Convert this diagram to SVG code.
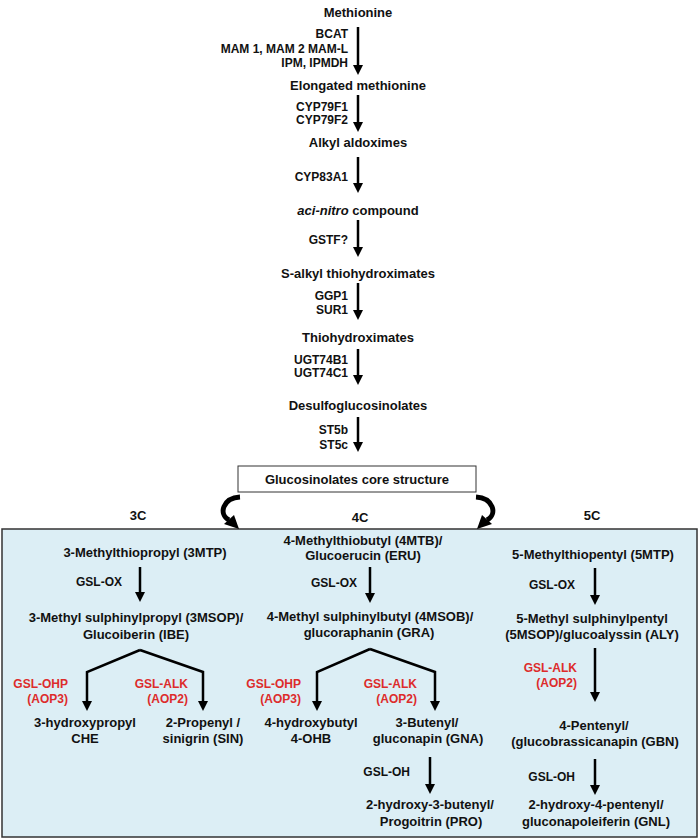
<svg xmlns="http://www.w3.org/2000/svg" width="700" height="840" viewBox="0 0 700 840">
<defs>
<marker id="ah" viewBox="0 0 10 10" refX="2" refY="5" markerWidth="4" markerHeight="4" orient="auto" markerUnits="strokeWidth">
<path d="M0,0 L10,5 L0,10 z" fill="#000"/>
</marker>
<style>
text{font-family:"Liberation Sans",Arial,sans-serif;font-weight:bold;fill:#111;}
.c{font-size:13px;text-anchor:middle;}
.e{font-size:12px;text-anchor:end;}
.r{font-size:12px;text-anchor:end;fill:#DD2B2B;}
.a{stroke:#000;stroke-width:2.5;fill:none;marker-end:url(#ah);}
.cv{stroke:#000;stroke-width:5;fill:none;}
</style>
</defs>
<rect x="0" y="0" width="700" height="840" fill="#fff"/>
<rect id="panel" x="2" y="529" width="695" height="308" fill="#DCEEF5" stroke="#333" stroke-width="1.5"/>

<g id="connectors">
<line class="a" x1="358" y1="27" x2="358" y2="67"/>
<line class="a" x1="358" y1="95" x2="358" y2="124"/>
<line class="a" x1="358" y1="157" x2="358" y2="185"/>
<line class="a" x1="358" y1="220" x2="358" y2="249"/>
<line class="a" x1="358" y1="283" x2="358" y2="312"/>
<line class="a" x1="358" y1="349" x2="358" y2="377"/>
<line class="a" x1="358" y1="417" x2="358" y2="444"/>
<path class="cv" d="M240 497 C223 498, 218 514, 229 520"/>
<polygon points="224,524 234,515 239,529" fill="#000"/>
<path class="cv" d="M476 497 C493 498, 498 514, 487 520"/>
<polygon points="492,524 482,515 477,529" fill="#000"/>
<line class="a" x1="140" y1="567" x2="140" y2="594"/>
<path class="a" d="M140 650 L87 672 L87 703"/>
<path class="a" d="M140 650 L203 672 L203 703"/>
<line class="a" x1="370" y1="567" x2="370" y2="595"/>
<path class="a" d="M370 649 L317 672 L317 703"/>
<path class="a" d="M370 649 L435 672 L435 703"/>
<line class="a" x1="430" y1="757" x2="430" y2="786"/>
<line class="a" x1="595" y1="568" x2="595" y2="597"/>
<line class="a" x1="595" y1="648" x2="595" y2="694"/>
<line class="a" x1="595" y1="759" x2="595" y2="787"/>
</g>

<g id="labels">
<text class="e" x="348" y="38">BCAT</text>
<text class="e" x="348" y="53">MAM 1, MAM 2 MAM-L</text>
<text class="e" x="348" y="67">IPM, IPMDH</text>
<text class="e" x="348" y="111">CYP79F1</text>
<text class="e" x="348" y="124">CYP79F2</text>
<text class="e" x="348" y="181">CYP83A1</text>
<text class="e" x="348" y="244">GSTF?</text>
<text class="e" x="348" y="300">GGP1</text>
<text class="e" x="348" y="314">SUR1</text>
<text class="e" x="348" y="364">UGT74B1</text>
<text class="e" x="348" y="377">UGT74C1</text>
<text class="e" x="348" y="434">ST5b</text>
<text class="e" x="348" y="449">ST5c</text>
<text class="e" x="122" y="586">GSL-OX</text>
<text class="e" x="357" y="587">GSL-OX</text>
<text class="e" x="575" y="589">GSL-OX</text>
<text class="e" x="410" y="776">GSL-OH</text>
<text class="e" x="575" y="781">GSL-OH</text>
<text class="r" x="68" y="688">GSL-OHP</text>
<text class="r" x="68" y="703">(AOP3)</text>
<text class="r" x="188" y="688">GSL-ALK</text>
<text class="r" x="188" y="703">(AOP2)</text>
<text class="r" x="301" y="688">GSL-OHP</text>
<text class="r" x="301" y="703">(AOP3)</text>
<text class="r" x="417" y="688">GSL-ALK</text>
<text class="r" x="417" y="703">(AOP2)</text>
<text class="r" x="577" y="672">GSL-ALK</text>
<text class="r" x="577" y="687">(AOP2)</text>
<text class="c" x="138" y="520">3C</text>
<text class="c" x="360" y="522">4C</text>
<text class="c" x="592" y="520">5C</text>
</g>

<g id="n-methionine"><text class="c" x="358" y="16.5">Methionine</text></g>
<g id="n-elongated"><text class="c" x="358" y="89.5">Elongated methionine</text></g>
<g id="n-aldoximes"><text class="c" x="358" y="146.5">Alkyl aldoximes</text></g>
<g id="n-acinitro"><text class="c" x="358" y="214.5"><tspan font-style="italic">aci-nitro</tspan> compound</text></g>
<g id="n-salkyl"><text class="c" x="358" y="277.5">S-alkyl thiohydroximates</text></g>
<g id="n-thio"><text class="c" x="358" y="341.5">Thiohydroximates</text></g>
<g id="n-desulfo"><text class="c" x="358" y="409.5">Desulfoglucosinolates</text></g>
<g id="n-core">
<rect x="238" y="466" width="238" height="26" fill="#fff" stroke="#333" stroke-width="1"/>
<text class="c" x="357" y="483.5">Glucosinolates core structure</text>
</g>

<g id="n-3mtp"><text class="c" x="145" y="557">3-Methylthiopropyl (3MTP)</text></g>
<g id="n-3msop"><text class="c" x="136" y="622">3-Methyl sulphinylpropyl (3MSOP)/</text><text class="c" x="136" y="639">Glucoiberin (IBE)</text></g>
<g id="n-che"><text class="c" x="85" y="727">3-hydroxypropyl</text><text class="c" x="85" y="743">CHE</text></g>
<g id="n-sin"><text class="c" x="203" y="727">2-Propenyl /</text><text class="c" x="203" y="743">sinigrin (SIN)</text></g>

<g id="n-4mtb"><text class="c" x="363" y="545">4-Methylthiobutyl (4MTB)/</text><text class="c" x="363" y="560">Glucoerucin (ERU)</text></g>
<g id="n-4msob"><text class="c" x="370" y="621">4-Methyl sulphinylbutyl (4MSOB)/</text><text class="c" x="369" y="637">glucoraphanin (GRA)</text></g>
<g id="n-4ohb"><text class="c" x="311" y="727">4-hydroxybutyl</text><text class="c" x="311" y="743">4-OHB</text></g>
<g id="n-gna"><text class="c" x="427" y="727">3-Butenyl/</text><text class="c" x="428" y="743">gluconapin (GNA)</text></g>
<g id="n-pro"><text class="c" x="430" y="809">2-hydroxy-3-butenyl/</text><text class="c" x="431" y="826">Progoitrin (PRO)</text></g>

<g id="n-5mtp"><text class="c" x="593" y="559">5-Methylthiopentyl (5MTP)</text></g>
<g id="n-5msop"><text class="c" x="592" y="623">5-Methyl sulphinylpentyl</text><text class="c" x="592" y="639">(5MSOP)/glucoalyssin (ALY)</text></g>
<g id="n-gbn"><text class="c" x="594" y="730">4-Pentenyl/</text><text class="c" x="595" y="746">(glucobrassicanapin (GBN)</text></g>
<g id="n-gnl"><text class="c" x="596" y="809">2-hydroxy-4-pentenyl/</text><text class="c" x="596" y="826">gluconapoleiferin (GNL)</text></g>
</svg>
